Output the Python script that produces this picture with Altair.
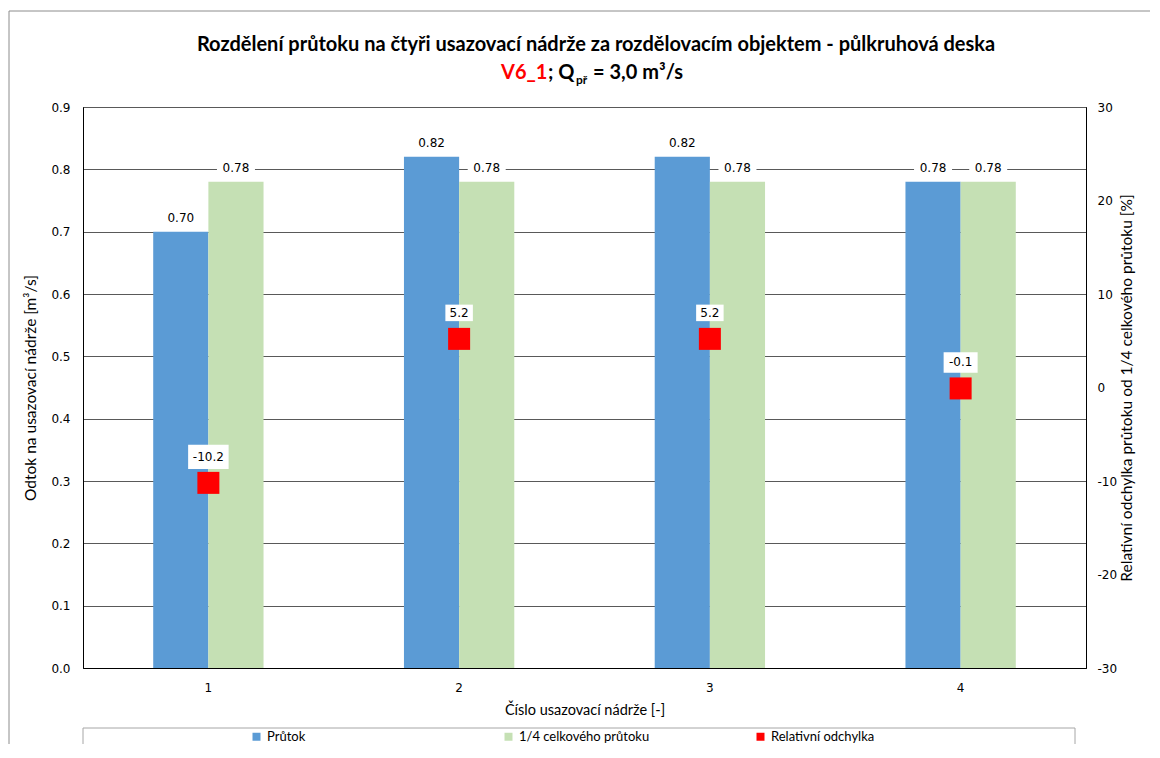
import altair as alt
import pandas as pd

# ---- data ----
nadrze = ["1", "2", "3", "4"]
prutok = [0.70, 0.82, 0.82, 0.78]
ctvrtina = [0.78, 0.78, 0.78, 0.78]
odchylka = [-10.2, 5.2, 5.2, -0.1]

s_prutok = "Průtok"
s_ctvrt = "1/4 celkového průtoku"
s_odch = "Relativní odchylka"
series_order = [s_prutok, s_ctvrt, s_odch]
colors = ["#5B9BD5", "#C5E0B4", "#FF0000"]

bars_df = pd.DataFrame(
    [{"nadrz": n, "serie": s_prutok, "hodnota": v} for n, v in zip(nadrze, prutok)]
    + [{"nadrz": n, "serie": s_ctvrt, "hodnota": v} for n, v in zip(nadrze, ctvrtina)]
)
dev_df = pd.DataFrame({"nadrz": nadrze, "odchylka": odchylka, "serie": [s_odch] * 4})

TXT = "Lato"
NUM = "DejaVu Sans"
BOX = "M-1,-0.6L1,-0.6L1,0.6L-1,0.6Z"
BOX2 = "M-1,-0.42L1,-0.42L1,0.42L-1,0.42Z"
HYPHEN = "replace(datum.label, '\u2212', '-')"

color = alt.Color(
    "serie:N",
    scale=alt.Scale(domain=series_order, range=colors),
    legend=alt.Legend(
        title=None, orient="none", legendX=167, legendY=623, direction="horizontal",
        columns=3, gridAlign="all", columnPadding=104, symbolType="square", symbolSize=64,
        symbolStrokeWidth=0, labelFont=TXT, labelFontSize=13, labelColor="#000000",
        symbolOffset=0, labelOffset=4,
    ),
)

x = alt.X(
    "nadrz:N",
    scale=alt.Scale(paddingInner=0.56, paddingOuter=0.28),
    axis=alt.Axis(
        title="Číslo usazovací nádrže [-]", labelAngle=0, ticks=False, labelFont=NUM,
        labelFontSize=12, labelColor="#000000", labelPadding=14, titleFont=TXT,
        titleFontSize=14.5, titleFontWeight="normal", titleColor="#000000", titlePadding=10,
        domainColor="#000000", grid=False,
    ),
)
xoff = alt.XOffset("serie:N", sort=[s_prutok, s_ctvrt], scale=alt.Scale(paddingInner=0))

y_left = alt.Y(
    "hodnota:Q",
    scale=alt.Scale(domain=[0, 0.9], nice=False, zero=True),
    axis=alt.Axis(
        title="Odtok na usazovací nádrže [m³/s]",
        values=[0, 0.1, 0.2, 0.3, 0.4, 0.5, 0.6, 0.7, 0.8, 0.9], format=".1f",
        grid=True, gridColor="#595959", gridWidth=1, ticks=False, labelFont=NUM,
        labelFontSize=12, labelColor="#000000", labelPadding=13, titleFont=TXT,
        titleFontSize=15.5, titleFontWeight="normal", titleColor="#000000", titlePadding=12,
        domainColor="#000000",
    ),
)
y_right = alt.Y(
    "odchylka:Q",
    scale=alt.Scale(domain=[-30, 30], nice=False, zero=False),
    axis=alt.Axis(
        title="Relativní odchylka průtoku od 1/4 celkového průtoku [%]", orient="right",
        values=[-30, -20, -10, 0, 10, 20, 30], grid=False, ticks=False, labelFont=NUM,
        labelFontSize=12, labelColor="#000000", labelPadding=11, labelExpr=HYPHEN,
        titleFont=TXT, titleFontSize=15.5, titleFontWeight="normal", titleColor="#000000",
        titleAngle=270, titlePadding=18, domainColor="#000000",
    ),
)

base_l = alt.Chart(bars_df)
bars = base_l.mark_bar().encode(x=x, xOffset=xoff, y=y_left, color=color)
bar_box = base_l.mark_point(
    shape=BOX2, filled=True, color="white", opacity=1, size=38 * 38, yOffset=-14
).encode(x=x, xOffset=xoff, y=y_left)
bar_txt = base_l.mark_text(font=NUM, fontSize=12, color="#000000", dy=-14).encode(
    x=x, xOffset=xoff, y=y_left, text=alt.Text("hodnota:Q", format=".2f")
)
left = alt.layer(bars, bar_box, bar_txt)

base_r = alt.Chart(dev_df).transform_calculate(
    lbl="replace(format(datum.odchylka, '.1f'), '\u2212', '-')"
).transform_calculate(
    boxsz="pow(length(datum.lbl) * 6.5 + 8, 2)"
)
squares = base_r.mark_square(size=22 * 22, opacity=1).encode(x=x, y=y_right, color=color)
dev_box = base_r.mark_point(
    shape=BOX, filled=True, color="white", opacity=1, yOffset=-26
).encode(x=x, y=y_right, size=alt.Size("boxsz:Q", scale=None, legend=None))
dev_txt = base_r.mark_text(font=NUM, fontSize=12, color="#000000", dy=-26).encode(
    x=x, y=y_right, text="lbl:N"
)
right = alt.layer(squares, dev_box, dev_txt)

one = alt.Chart(pd.DataFrame({"k": [0]}))
frame = one.mark_rect(fill=None, stroke="#8c8c8c", strokeWidth=1).encode(
    x=alt.value(-74), x2=alt.value(1100), y=alt.value(-96), y2=alt.value(700)
)
legend_box = one.mark_rect(fill=None, stroke="#a6a6a6", strokeWidth=1).encode(
    x=alt.value(0), x2=alt.value(992), y=alt.value(621), y2=alt.value(639)
)
t1 = one.mark_text(font=TXT, fontSize=20, fontWeight="bold", color="#000000", align="center").encode(
    x=alt.value(513), y=alt.value(-62),
    text=alt.value("Rozdělení průtoku na čtyři usazovací nádrže za rozdělovacím objektem - půlkruhová deska"),
)
t2a = one.mark_text(font=TXT, fontSize=20, fontWeight="bold", color="#FF0000", align="left").encode(
    x=alt.value(418), y=alt.value(-34), text=alt.value("V6_1")
)
t2b = one.mark_text(font=TXT, fontSize=20, fontWeight="bold", color="#000000", align="left").encode(
    x=alt.value(465), y=alt.value(-34), text=alt.value("; Q")
)
t2c = one.mark_text(font=TXT, fontSize=12, fontWeight="bold", color="#000000", align="left").encode(
    x=alt.value(493), y=alt.value(-27), text=alt.value("př")
)
t2d = one.mark_text(font=TXT, fontSize=20, fontWeight="bold", color="#000000", align="left").encode(
    x=alt.value(510), y=alt.value(-34), text=alt.value("= 3,0 m³/s")
)

chart = (
    alt.layer(frame, left, right, legend_box, t1, t2a, t2b, t2c, t2d)
    .resolve_scale(y="independent")
    .properties(
        width=1003, height=561,
        autosize=alt.AutoSizeParams(type="none"),
        padding={"left": 75, "top": 99, "right": 64, "bottom": 76},
        background="white",
    )
    .configure_view(stroke="#000000", strokeWidth=1)
)

chart.save("out.html", embed_options={"renderer": "svg", "actions": False})
